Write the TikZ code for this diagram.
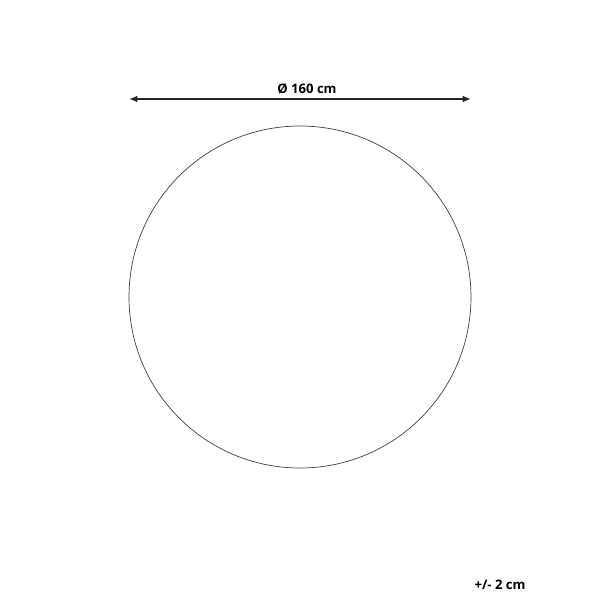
\documentclass[tikz,border=0pt]{standalone}
\usepackage{fontspec}
\setmainfont{Open Sans}
\usetikzlibrary{arrows.meta}
\tikzset{
  dimline/.style={{Latex[length=6pt,width=5pt]}-{Latex[length=6pt,width=5pt]}, line width=1.2pt, black!85},
  dimlabel/.style={font=\bfseries\fontsize{9.3}{11}\selectfont, inner sep=1pt},
}
\begin{document}
\begin{tikzpicture}[x=0.025cm,y=-0.025cm]
\useasboundingbox (0,0) rectangle (600,600);

% rug outline
\draw[black!75, line width=0.5pt] (300,297) circle[radius=171];

% diameter
\coordinate (dl) at (129,99);
\coordinate (dr) at (471,99);
\draw[dimline] (dl) -- (dr);
\node[dimlabel] (diam) at (307,89) {Ø 160 cm};

% tolerance
\node[dimlabel] (tol) at (500,585) {+/- 2 cm};
\end{tikzpicture}
\end{document}
